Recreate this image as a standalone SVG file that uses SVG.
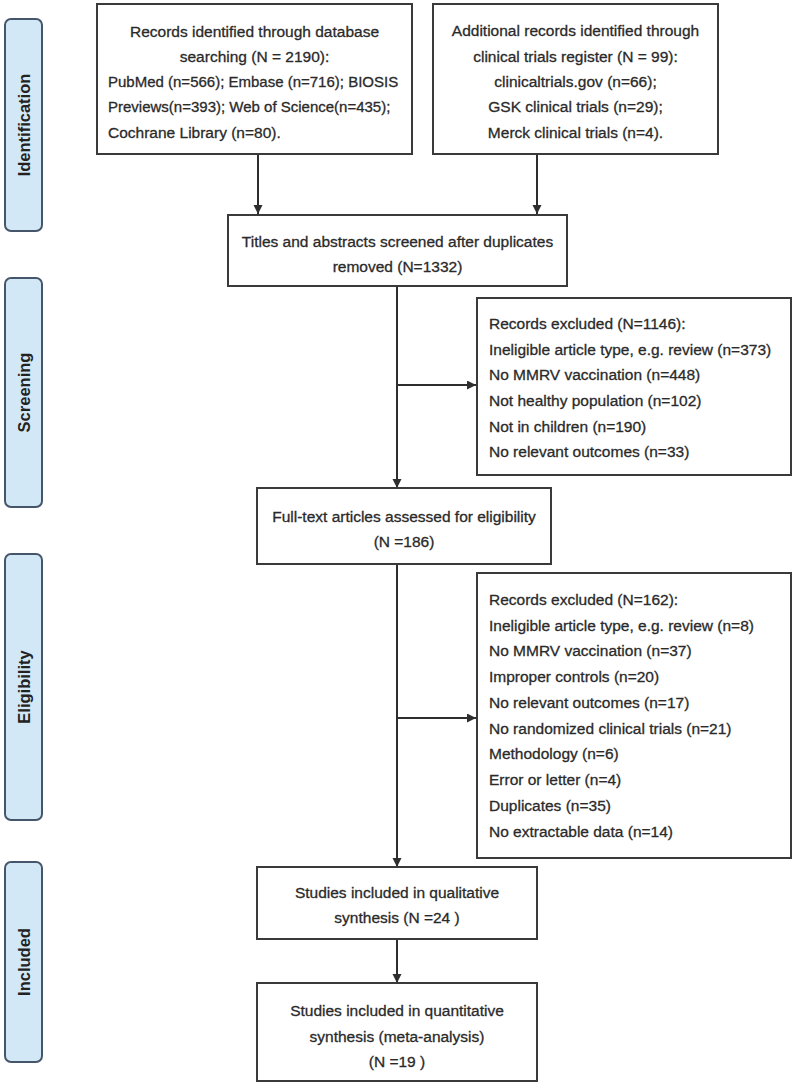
<svg xmlns="http://www.w3.org/2000/svg" width="800" height="1084" viewBox="0 0 800 1084">
<style>
.box{fill:#fff;stroke:#3a3a3a;stroke-width:2}
.side{fill:#d3e8f6;stroke:#46566a;stroke-width:2}
.t{font-family:"Liberation Sans",Arial,sans-serif;font-size:15.5px;fill:#2a2a2a;stroke:#2a2a2a;stroke-width:0.3}
.c{text-anchor:middle}
.n{font-size:15px}
.s{font-family:"Liberation Sans",Arial,sans-serif;font-size:16.5px;font-weight:bold;fill:#222;text-anchor:middle;dominant-baseline:central}
.ln{stroke:#2e2e2e;stroke-width:2;fill:none}
</style>
<defs>
<marker id="ah" markerUnits="userSpaceOnUse" markerWidth="10" markerHeight="10" refX="9" refY="4.5" orient="auto">
<path d="M0,0 L9,4.5 L0,9 z" fill="#2e2e2e"/>
</marker>
</defs>
<rect width="800" height="1084" fill="#fff"/>

<g id="side-identification">
<rect class="side" x="5" y="19" width="37" height="212" rx="6"/>
<text class="s" transform="translate(24,125) rotate(-90)">Identification</text>
</g>
<g id="side-screening">
<rect class="side" x="5" y="278" width="37" height="229" rx="6"/>
<text class="s" transform="translate(24,392.5) rotate(-90)">Screening</text>
</g>
<g id="side-eligibility">
<rect class="side" x="5" y="554" width="37" height="266" rx="6"/>
<text class="s" transform="translate(24,687) rotate(-90)">Eligibility</text>
</g>
<g id="side-included">
<rect class="side" x="5" y="862" width="37" height="200" rx="6"/>
<text class="s" transform="translate(24,962) rotate(-90)">Included</text>
</g>

<g id="connectors">
<line class="ln" x1="258" y1="154" x2="258" y2="214" marker-end="url(#ah)"/>
<line class="ln" x1="537" y1="154" x2="537" y2="214" marker-end="url(#ah)"/>
<line class="ln" x1="397" y1="286" x2="397" y2="488" marker-end="url(#ah)"/>
<line class="ln" x1="397" y1="385" x2="476" y2="385" marker-end="url(#ah)"/>
<line class="ln" x1="397" y1="564" x2="397" y2="867" marker-end="url(#ah)"/>
<line class="ln" x1="397" y1="718" x2="476" y2="718" marker-end="url(#ah)"/>
<line class="ln" x1="397" y1="939" x2="397" y2="983" marker-end="url(#ah)"/>
</g>

<g id="records-database">
<rect class="box" x="97" y="4" width="315" height="150"/>
<text class="t c" x="254.5" y="37">Records identified through database</text>
<text class="t c" x="254.5" y="62">searching (N = 2190):</text>
<text class="t n" x="108" y="87">PubMed (n=566); Embase (n=716); BIOSIS</text>
<text class="t n" x="108" y="112">Previews(n=393); Web of Science(n=435);</text>
<text class="t" x="108" y="138">Cochrane Library (n=80).</text>
</g>

<g id="records-register">
<rect class="box" x="433" y="4" width="285" height="150"/>
<text class="t c" x="575.5" y="36">Additional records identified through</text>
<text class="t c" x="575.5" y="62">clinical trials register (N = 99):</text>
<text class="t c" x="575.5" y="87">clinicaltrials.gov (n=66);</text>
<text class="t c" x="575.5" y="112">GSK clinical trials (n=29);</text>
<text class="t c" x="575.5" y="138">Merck clinical trials (n=4).</text>
</g>

<g id="screened">
<rect class="box" x="228" y="215" width="339" height="71"/>
<text class="t c" x="397.5" y="247">Titles and abstracts screened after duplicates</text>
<text class="t c" x="397.5" y="272">removed (N=1332)</text>
</g>

<g id="excluded-screening">
<rect class="box" x="477" y="298" width="314" height="177"/>
<text class="t" x="489" y="329">Records excluded (N=1146):</text>
<text class="t" x="489" y="355">Ineligible article type, e.g. review (n=373)</text>
<text class="t" x="489" y="380">No MMRV vaccination (n=448)</text>
<text class="t" x="489" y="406">Not healthy population (n=102)</text>
<text class="t" x="489" y="432">Not in children (n=190)</text>
<text class="t" x="489" y="457">No relevant outcomes (n=33)</text>
</g>

<g id="fulltext">
<rect class="box" x="257" y="488" width="294" height="76"/>
<text class="t c" x="404" y="522">Full-text articles assessed for eligibility</text>
<text class="t c" x="404" y="547">(N =186)</text>
</g>

<g id="excluded-eligibility">
<rect class="box" x="477" y="573" width="314" height="285"/>
<text class="t" x="489" y="605">Records excluded (N=162):</text>
<text class="t" x="489" y="631">Ineligible article type, e.g. review (n=8)</text>
<text class="t" x="489" y="656">No MMRV vaccination (n=37)</text>
<text class="t" x="489" y="682">Improper controls (n=20)</text>
<text class="t" x="489" y="708">No relevant outcomes (n=17)</text>
<text class="t" x="489" y="734">No randomized clinical trials (n=21)</text>
<text class="t" x="489" y="759">Methodology (n=6)</text>
<text class="t" x="489" y="785">Error or letter (n=4)</text>
<text class="t" x="489" y="811">Duplicates (n=35)</text>
<text class="t" x="489" y="837">No extractable data (n=14)</text>
</g>

<g id="qualitative">
<rect class="box" x="257" y="867" width="280" height="72"/>
<text class="t c" x="397" y="898">Studies included in qualitative</text>
<text class="t c" x="397" y="923">synthesis (N =24 )</text>
</g>

<g id="quantitative">
<rect class="box" x="257" y="983" width="280" height="98"/>
<text class="t c" x="397" y="1016">Studies included in quantitative</text>
<text class="t c" x="397" y="1042">synthesis (meta-analysis)</text>
<text class="t c" x="397" y="1067">(N =19 )</text>
</g>
</svg>
